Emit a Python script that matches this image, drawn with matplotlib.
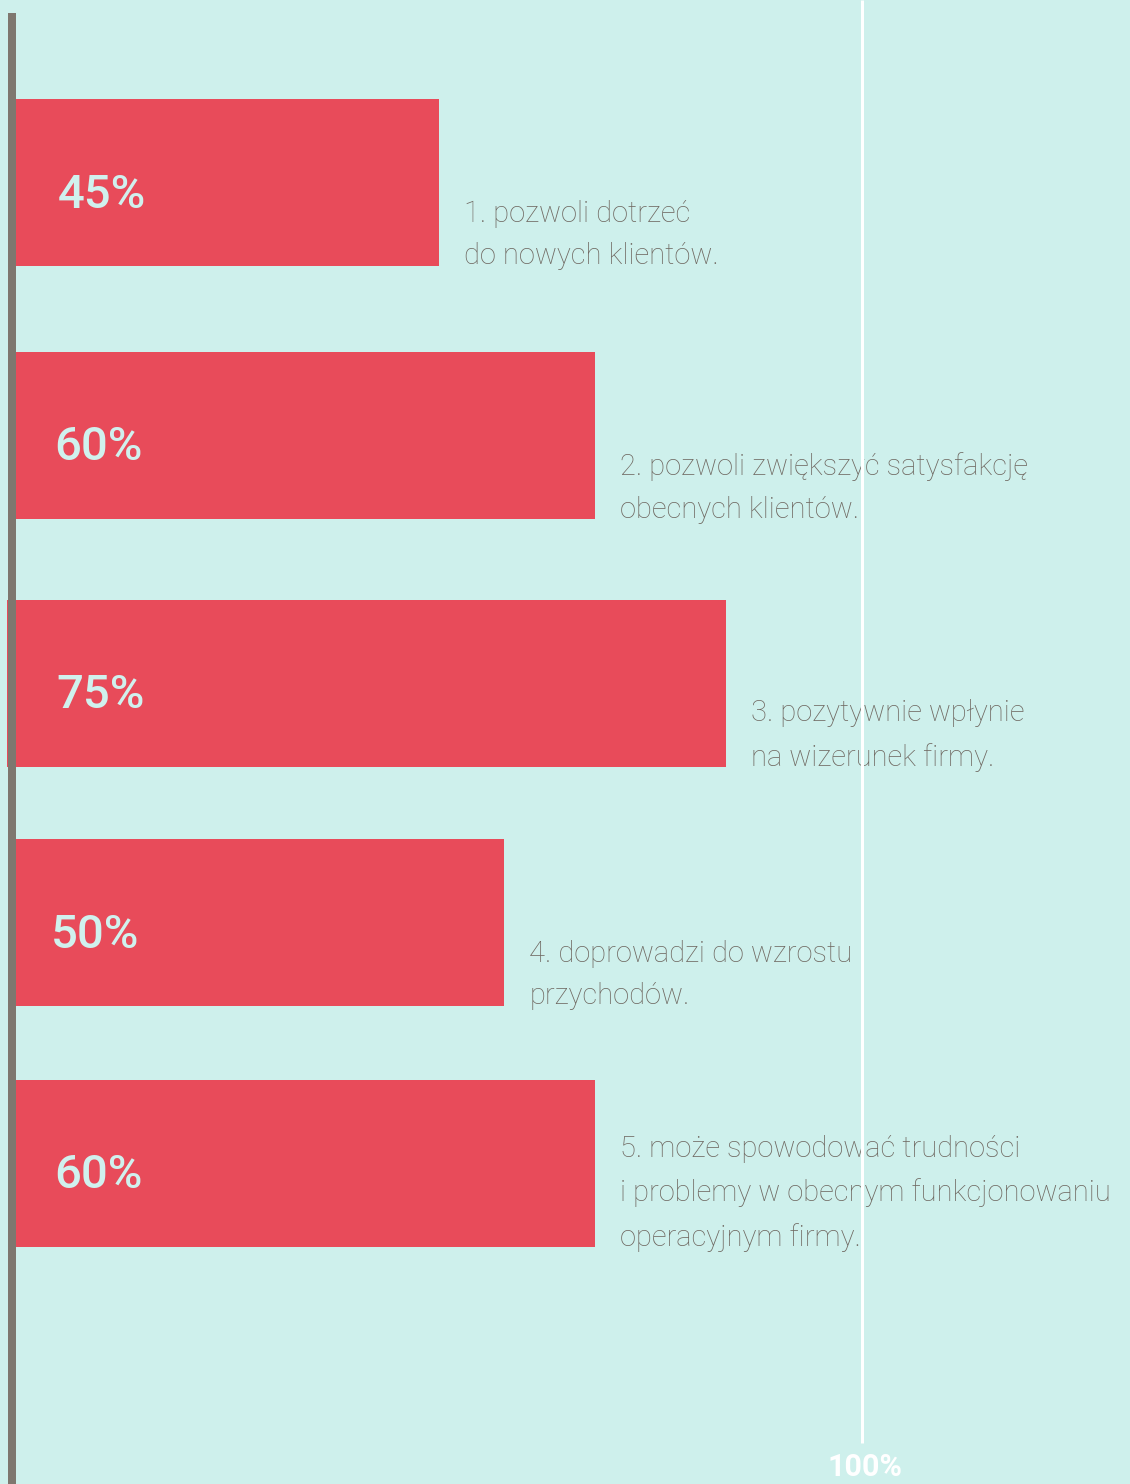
import matplotlib
matplotlib.use("Agg")
import matplotlib.pyplot as plt

# ---- data ----
categories = [
    "1. pozwoli dotrzeć\ndo nowych klientów.",
    "2. pozwoli zwiększyć satysfakcję\nobecnych klientów.",
    "3. pozytywnie wpłynie\nna wizerunek firmy.",
    "4. doprowadzi do wzrostu\nprzychodów.",
    "5. może spowodować trudności\ni problemy w obecnym funkcjonowaniu\noperacyjnym firmy.",
]
value_labels = ["45%", "60%", "75%", "50%", "60%"]
# drawn bar lengths (percent of the 100% reference line)
bar_lengths = [50.0, 68.4, 83.9, 57.7, 68.4]
reference_label = "100%"
reference_value = 100

# ---- layout (pixel units vertically) ----
W, H = 1130, 1484
px_per_pct = 8.46
x0_px = 16
bar_centers = [182.5, 435.5, 683.5, 922.5, 1163.5]
bar_height = 167
bar_lefts = [0, 0, -1.06, 0, 0]
label_x_px = [58, 54, 56, 51, 54]

BG = "#CEF0EC"
RED = "#E84B5A"
GRAY = "#7E776F"
TEXT_GRAY = "#6F6861"
LABEL = "#D0F1EE"

fig = plt.figure(figsize=(W / 100, H / 100), dpi=100)
fig.patch.set_facecolor(BG)
ax = fig.add_axes([0, 0, 1, 1])
ax.set_facecolor(BG)
ax.set_xlim(-x0_px / px_per_pct, (W - x0_px) / px_per_pct)
ax.set_ylim(H, 0)
ax.axis("off")

ax.barh(bar_centers, [b - l for b, l in zip(bar_lengths, bar_lefts)], left=bar_lefts,
        height=bar_height, color=RED, zorder=2)

# left axis line
ax.plot([-4 / px_per_pct] * 2, [13, H], color=GRAY, lw=8 * 0.72, solid_capstyle="butt", zorder=3)

# reference 100% line
ax.plot([reference_value] * 2, [0, 1443], color="white", lw=3 * 0.72, solid_capstyle="butt", zorder=5)
ax.text(reference_value + 0.3, 1482, reference_label, color="white", fontsize=22, fontweight="bold",
        family=["Roboto", "DejaVu Sans"], ha="center", va="bottom", zorder=5)

for yc, lab, lx in zip(bar_centers, value_labels, label_x_px):
    ax.text((lx - x0_px) / px_per_pct, yc + 12, lab, color=LABEL, fontsize=34, fontweight="medium",
            family=["Roboto", "DejaVu Sans"], ha="left", va="center", zorder=4)

for yc, b, cat in zip(bar_centers, bar_lengths, categories):
    ax.text(b + 25 / px_per_pct, yc + 88, cat, color=TEXT_GRAY, fontsize=21, fontweight="light",
            family=["Roboto", "DejaVu Sans"], ha="left", va="bottom", linespacing=1.68, zorder=4)

fig.savefig("out.png", dpi=100, facecolor=BG)
